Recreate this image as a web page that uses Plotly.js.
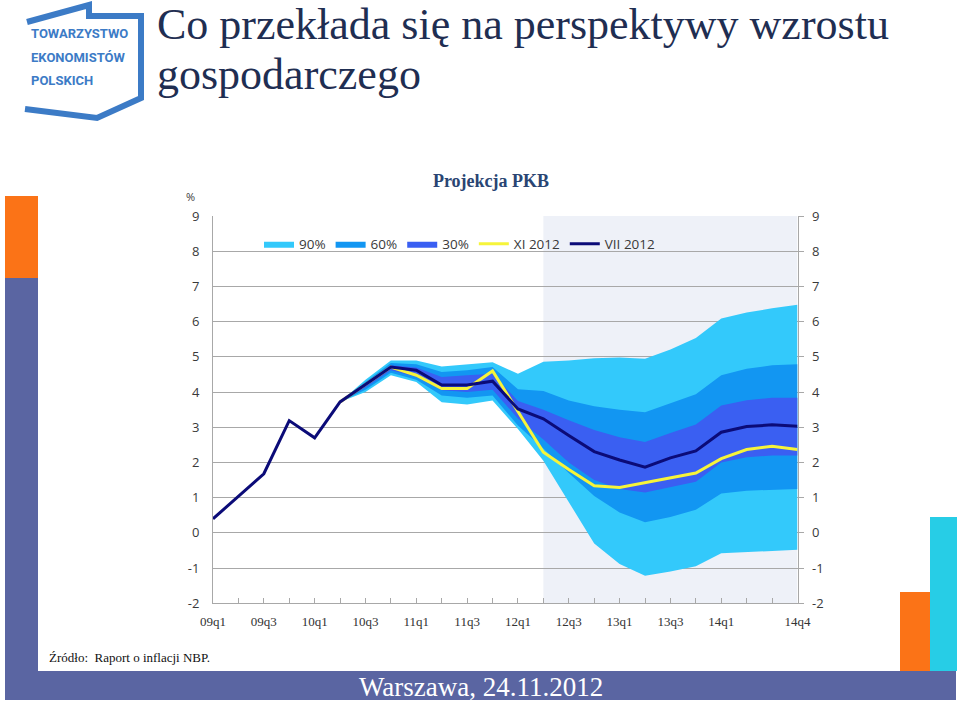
<!DOCTYPE html>
<html>
<head>
<meta charset="utf-8">
<script src="https://cdn.plot.ly/plotly-3.0.1.min.js"></script>
<style>html,body{margin:0;padding:0;background:#fff;}#chart{width:960px;height:703px;}</style>
</head>
<body>
<div id="chart"></div>
<script>
// ---- data ----
const quarters = ['09q1','09q2','09q3','09q4','10q1','10q2','10q3','10q4','11q1','11q2','11q3','11q4',
                  '12q1','12q2','12q3','12q4','13q1','13q2','13q3','13q4','14q1','14q2','14q3','14q4'];
const tickLabels = ['09q1','','09q3','','10q1','','10q3','','11q1','','11q3','',
                    '12q1','','12q3','','13q1','','13q3','','14q1','','','14q4'];
const yTickVals = [-2,-1,0,1,2,3,4,5,6,7,8,9];
const yTickText = ['-2','-1','0','1','2','3','4','5','6','7','8','9'];
const vii2012 = [0.40,1.03,1.68,3.19,2.70,3.72,4.21,4.71,4.62,4.20,4.20,4.31,
                 3.52,3.24,2.77,2.31,2.07,1.87,2.13,2.33,2.86,3.02,3.07,3.03];
const xi2012  = [null,null,null,null,null,3.72,4.21,4.71,4.48,4.10,4.10,4.60,
                 3.45,2.29,1.80,1.34,1.29,1.42,1.56,1.70,2.11,2.37,2.46,2.37];
// fan chart bands, starting at 10q2
const fanQuarters = quarters.slice(5);
const p90hi = [3.72,4.35,4.90,4.90,4.73,4.79,4.85,4.52,4.86,4.90,4.96,4.98,4.95,5.21,5.54,6.09,6.26,6.38,6.48];
const p60hi = [3.72,4.29,4.83,4.79,4.57,4.62,4.71,4.08,4.03,3.76,3.60,3.50,3.43,3.68,3.94,4.48,4.66,4.76,4.79];
const p30hi = [3.72,4.24,4.76,4.70,4.43,4.48,4.52,3.75,3.50,3.20,2.92,2.72,2.58,2.84,3.08,3.62,3.77,3.84,3.84];
const p30lo = [3.72,4.13,4.62,4.43,4.05,4.00,4.07,3.25,2.65,2.00,1.50,1.25,1.15,1.30,1.45,2.00,2.15,2.20,2.20];
const p60lo = [3.72,4.07,4.55,4.35,3.90,3.84,3.90,3.05,2.40,1.70,1.05,0.58,0.30,0.45,0.66,1.12,1.20,1.23,1.25];
const p90lo = [3.72,4.00,4.48,4.29,3.71,3.65,3.76,2.95,2.05,0.87,-0.30,-0.88,-1.22,-1.10,-0.95,-0.58,-0.55,-0.51,-0.48];
const projectionStart = '12q2';

// ---- helpers ----
const W = 960, H = 703;
const px = v => v / W;
const py = v => 1 - v / H;

const c90 = '#33c9fb', c60 = '#1296f2', c30 = '#3a5ff2';

function band(lo, hi, color, name) {
  return [
    {x: fanQuarters, y: lo, type: 'scatter', mode: 'lines', line: {width: 0, color: color},
     showlegend: false, hoverinfo: 'skip'},
    {x: fanQuarters, y: hi, type: 'scatter', mode: 'lines', fill: 'tonexty', fillcolor: color,
     line: {width: 0, color: color}, name: name, hoverinfo: 'skip'}
  ];
}

const traces = [].concat(
  band(p90lo, p90hi, c90, '90%'),
  band(p60lo, p60hi, c60, '60%'),
  band(p30lo, p30hi, c30, '30%'),
  [
    {x: quarters, y: xi2012, type: 'scatter', mode: 'lines', name: 'XI 2012',
     line: {color: '#f6f43a', width: 3}},
    {x: quarters, y: vii2012, type: 'scatter', mode: 'lines', name: 'VII 2012',
     line: {color: '#0b0b78', width: 3}},
    {x: quarters, y: vii2012, type: 'scatter', mode: 'lines', yaxis: 'y2', opacity: 0,
     showlegend: false, hoverinfo: 'skip', line: {width: 0}}
  ]
);

const gridCol = '#a8a8a8';
const tickFont = {family: 'Open Sans, sans-serif', size: 13, color: '#3a3a3a'};

const shapes = [
  // projection shading
  {type: 'rect', xref: 'x', yref: 'paper', x0: quarters.indexOf(projectionStart), x1: quarters.length - 1,
   y0: py(603.3), y1: py(216.1), fillcolor: '#eef1f8', line: {width: 0}, layer: 'below'},
  // left bar
  {type: 'rect', xref: 'paper', yref: 'paper', x0: px(5), x1: px(38), y0: py(278), y1: py(196),
   fillcolor: '#fb7317', line: {width: 0}},
  {type: 'rect', xref: 'paper', yref: 'paper', x0: px(5), x1: px(38), y0: py(700), y1: py(278),
   fillcolor: '#5a65a2', line: {width: 0}},
  // bottom bar
  {type: 'rect', xref: 'paper', yref: 'paper', x0: px(5), x1: px(956), y0: py(700), y1: py(671),
   fillcolor: '#5a65a2', line: {width: 0}},
  // right bars
  {type: 'rect', xref: 'paper', yref: 'paper', x0: px(900), x1: px(930), y0: py(671), y1: py(592),
   fillcolor: '#fb7317', line: {width: 0}},
  {type: 'rect', xref: 'paper', yref: 'paper', x0: px(930), x1: px(957), y0: py(671), y1: py(517),
   fillcolor: '#27cde6', line: {width: 0}},
  // logo outline
  {type: 'path', xref: 'paper', yref: 'paper',
   path: 'M ' + px(27) + ' ' + py(22) + ' L ' + px(89) + ' ' + py(5) + ' L ' + px(89) + ' ' + py(16) +
         ' L ' + px(141) + ' ' + py(16) + ' L ' + px(141) + ' ' + py(98) + ' L ' + px(97) + ' ' + py(118) +
         ' L ' + px(25) + ' ' + py(109),
   line: {color: '#3c7bc6', width: 6}}
];

const logoFont = {family: 'Roboto, sans-serif', size: 13, color: '#3c7bc6'};
const titleFont = {family: 'Liberation Serif, serif', size: 44, color: '#1f2e52'};
const annotations = [
  {text: '<b>TOWARZYSTWO</b>', x: px(29), y: py(34), xref: 'paper', yref: 'paper', xanchor: 'left', yanchor: 'middle', showarrow: false, font: logoFont},
  {text: '<b>EKONOMISTÓW</b>', x: px(29), y: py(57), xref: 'paper', yref: 'paper', xanchor: 'left', yanchor: 'middle', showarrow: false, font: logoFont},
  {text: '<b>POLSKICH</b>', x: px(29), y: py(80), xref: 'paper', yref: 'paper', xanchor: 'left', yanchor: 'middle', showarrow: false, font: logoFont},
  {text: 'Co przekłada się na perspektywy wzrostu', x: px(155), y: py(25), xref: 'paper', yref: 'paper',
   xanchor: 'left', yanchor: 'middle', showarrow: false, font: titleFont},
  {text: 'gospodarczego', x: px(155), y: py(74), xref: 'paper', yref: 'paper',
   xanchor: 'left', yanchor: 'middle', showarrow: false, font: titleFont},
  {text: '%', x: px(190), y: py(196), xref: 'paper', yref: 'paper', xanchor: 'center', yanchor: 'middle', showarrow: false,
   font: {family: 'Open Sans, sans-serif', size: 11, color: '#3a3a3a'}},
  {text: 'Źródło:  Raport o inflacji NBP.', x: px(47), y: py(657), xref: 'paper', yref: 'paper',
   xanchor: 'left', yanchor: 'middle', showarrow: false,
   font: {family: 'Liberation Serif, serif', size: 13, color: '#111'}},
  {text: 'Warszawa, 24.11.2012', x: px(481), y: py(687), xref: 'paper', yref: 'paper',
   xanchor: 'center', yanchor: 'middle', showarrow: false,
   font: {family: 'Liberation Serif, serif', size: 27, color: '#ffffff'}}
];

const layout = {
  width: W, height: H,
  margin: {l: 0, r: 0, t: 0, b: 0},
  paper_bgcolor: '#ffffff', plot_bgcolor: 'rgba(0,0,0,0)',
  title: {text: '<b>Projekcja PKB</b>', x: px(491), xanchor: 'center', y: py(181), yanchor: 'middle',
          font: {family: 'Liberation Serif, serif', size: 18, color: '#2a4573'}},
  showlegend: true,
  legend: {orientation: 'h', x: px(259), y: py(244), xanchor: 'left', yanchor: 'middle',
           bgcolor: 'rgba(0,0,0,0)', font: {family: 'Open Sans, sans-serif', size: 13.5, color: '#3a3a3a'},
           traceorder: 'normal', itemwidth: 30},
  xaxis: {domain: [px(213), px(797.5)], type: 'category', categoryorder: 'array', categoryarray: quarters,
          range: [0, quarters.length - 1], tickmode: 'array', tickvals: quarters, ticktext: tickLabels,
          showline: true, linecolor: gridCol, linewidth: 1, ticks: 'inside', ticklen: 5, tickcolor: gridCol,
          showgrid: false, zeroline: false, ticklabelstandoff: 6,
          tickfont: {family: 'Liberation Serif, serif', size: 13, color: '#333'}},
  yaxis: {domain: [py(603.3), py(216.1)], range: [-2, 9], tickmode: 'array', tickvals: yTickVals, ticktext: yTickText,
          showgrid: true, gridcolor: gridCol, gridwidth: 1, zeroline: false,
          showline: true, linecolor: gridCol, ticks: '', ticklabelstandoff: 10, tickfont: tickFont},
  yaxis2: {domain: [py(603.3), py(216.1)], overlaying: 'y', side: 'right', range: [-2, 9],
           tickmode: 'array', tickvals: yTickVals, ticktext: yTickText,
           showgrid: false, zeroline: false, showline: true, linecolor: gridCol,
           ticks: 'outside', ticklen: 5, tickcolor: gridCol, ticklabelstandoff: 6, tickfont: tickFont},
  shapes: shapes,
  annotations: annotations
};

Plotly.newPlot('chart', traces, layout, {staticPlot: true, displayModeBar: false});
</script>
</body>
</html>
